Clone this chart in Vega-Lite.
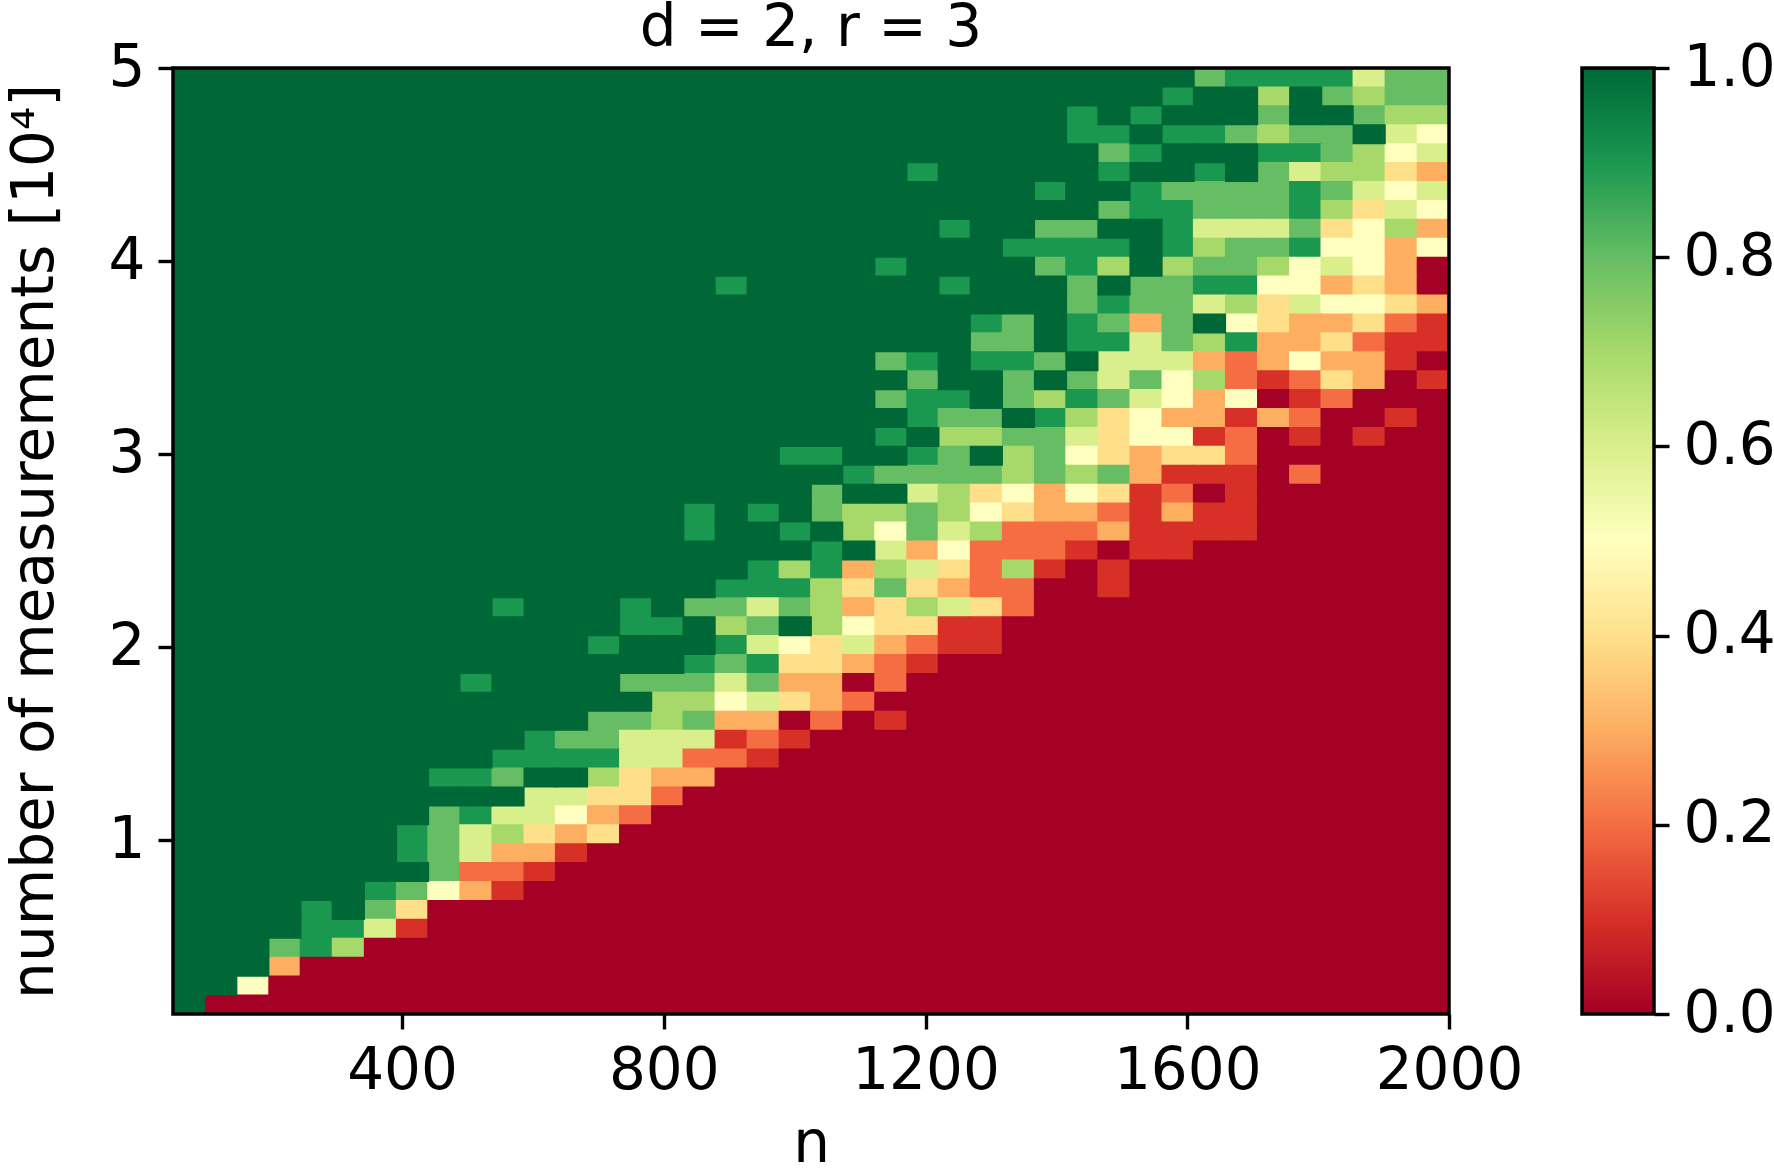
{"$schema":"https://vega.github.io/schema/vega-lite/v6.json","background":"white","padding":{"left":6,"top":0,"right":0,"bottom":0},"spacing":133,"bounds":"flush","config":{"font":"DejaVu Sans","view":{"stroke":null},"axis":{"grid":false,"domain":false,"tickColor":"black","tickWidth":3.4,"tickSize":15,"labelColor":"black","titleColor":"black","labelFontSize":58,"titleFontSize":58,"titleFontWeight":"normal","labelFont":"DejaVu Sans","titleFont":"DejaVu Sans","labelPadding":13,"labelFlush":false,"labelOverlap":false},"title":{"fontSize":58,"fontWeight":"normal","font":"DejaVu Sans","color":"black"}},"hconcat":[{"width":1276,"height":946,"title":{"text":"d = 2, r = 3","offset":-19},"layer":[{"data":{"values":[
{"n":1634,"m":4.951,"v":0.8},{"n":1683,"m":4.951,"v":0.9},{"n":1732,"m":4.951,"v":0.9},{"n":1781,"m":4.951,"v":0.9},{"n":1829,"m":4.951,"v":0.9},{"n":1878,"m":4.951,"v":0.6},{"n":1927,"m":4.951,"v":0.8},{"n":1976,"m":4.951,"v":0.8},
{"n":1586,"m":4.853,"v":0.9},{"n":1732,"m":4.853,"v":0.7},{"n":1829,"m":4.853,"v":0.8},{"n":1878,"m":4.853,"v":0.7},{"n":1927,"m":4.853,"v":0.8},{"n":1976,"m":4.853,"v":0.8},
{"n":1439,"m":4.755,"v":0.9},{"n":1537,"m":4.755,"v":0.9},{"n":1732,"m":4.755,"v":0.8},{"n":1878,"m":4.755,"v":0.8},{"n":1927,"m":4.755,"v":0.7},{"n":1976,"m":4.755,"v":0.7},
{"n":1439,"m":4.657,"v":0.9},{"n":1488,"m":4.657,"v":0.9},{"n":1586,"m":4.657,"v":0.9},{"n":1634,"m":4.657,"v":0.9},{"n":1683,"m":4.657,"v":0.8},{"n":1732,"m":4.657,"v":0.7},{"n":1781,"m":4.657,"v":0.8},{"n":1829,"m":4.657,"v":0.8},{"n":1927,"m":4.657,"v":0.6},{"n":1976,"m":4.657,"v":0.5},
{"n":1488,"m":4.559,"v":0.8},{"n":1537,"m":4.559,"v":0.9},{"n":1732,"m":4.559,"v":0.9},{"n":1781,"m":4.559,"v":0.9},{"n":1829,"m":4.559,"v":0.8},{"n":1878,"m":4.559,"v":0.7},{"n":1927,"m":4.559,"v":0.5},{"n":1976,"m":4.559,"v":0.6},
{"n":1196,"m":4.461,"v":0.9},{"n":1488,"m":4.461,"v":0.9},{"n":1634,"m":4.461,"v":0.9},{"n":1732,"m":4.461,"v":0.8},{"n":1781,"m":4.461,"v":0.6},{"n":1829,"m":4.461,"v":0.7},{"n":1878,"m":4.461,"v":0.7},{"n":1927,"m":4.461,"v":0.4},{"n":1976,"m":4.461,"v":0.3},
{"n":1391,"m":4.363,"v":0.9},{"n":1537,"m":4.363,"v":0.9},{"n":1586,"m":4.363,"v":0.8},{"n":1634,"m":4.363,"v":0.8},{"n":1683,"m":4.363,"v":0.8},{"n":1732,"m":4.363,"v":0.8},{"n":1781,"m":4.363,"v":0.9},{"n":1829,"m":4.363,"v":0.8},{"n":1878,"m":4.363,"v":0.6},{"n":1927,"m":4.363,"v":0.5},{"n":1976,"m":4.363,"v":0.6},
{"n":1488,"m":4.265,"v":0.8},{"n":1537,"m":4.265,"v":0.9},{"n":1586,"m":4.265,"v":0.9},{"n":1634,"m":4.265,"v":0.8},{"n":1683,"m":4.265,"v":0.8},{"n":1732,"m":4.265,"v":0.8},{"n":1781,"m":4.265,"v":0.9},{"n":1829,"m":4.265,"v":0.7},{"n":1878,"m":4.265,"v":0.4},{"n":1927,"m":4.265,"v":0.6},{"n":1976,"m":4.265,"v":0.5},
{"n":1244,"m":4.167,"v":0.9},{"n":1391,"m":4.167,"v":0.8},{"n":1439,"m":4.167,"v":0.8},{"n":1586,"m":4.167,"v":0.9},{"n":1634,"m":4.167,"v":0.6},{"n":1683,"m":4.167,"v":0.6},{"n":1732,"m":4.167,"v":0.6},{"n":1781,"m":4.167,"v":0.8},{"n":1829,"m":4.167,"v":0.4},{"n":1878,"m":4.167,"v":0.5},{"n":1927,"m":4.167,"v":0.7},{"n":1976,"m":4.167,"v":0.3},
{"n":1342,"m":4.069,"v":0.9},{"n":1391,"m":4.069,"v":0.9},{"n":1439,"m":4.069,"v":0.9},{"n":1488,"m":4.069,"v":0.9},{"n":1586,"m":4.069,"v":0.9},{"n":1634,"m":4.069,"v":0.7},{"n":1683,"m":4.069,"v":0.8},{"n":1732,"m":4.069,"v":0.8},{"n":1781,"m":4.069,"v":0.9},{"n":1829,"m":4.069,"v":0.5},{"n":1878,"m":4.069,"v":0.5},{"n":1927,"m":4.069,"v":0.3},{"n":1976,"m":4.069,"v":0.5},
{"n":1147,"m":3.971,"v":0.9},{"n":1391,"m":3.971,"v":0.8},{"n":1439,"m":3.971,"v":0.9},{"n":1488,"m":3.971,"v":0.7},{"n":1586,"m":3.971,"v":0.7},{"n":1634,"m":3.971,"v":0.8},{"n":1683,"m":3.971,"v":0.8},{"n":1732,"m":3.971,"v":0.7},{"n":1781,"m":3.971,"v":0.5},{"n":1829,"m":3.971,"v":0.6},{"n":1878,"m":3.971,"v":0.5},{"n":1927,"m":3.971,"v":0.3},{"n":1976,"m":3.971,"v":0},
{"n":903,"m":3.873,"v":0.9},{"n":1244,"m":3.873,"v":0.9},{"n":1439,"m":3.873,"v":0.8},{"n":1537,"m":3.873,"v":0.8},{"n":1586,"m":3.873,"v":0.8},{"n":1634,"m":3.873,"v":0.9},{"n":1683,"m":3.873,"v":0.9},{"n":1732,"m":3.873,"v":0.5},{"n":1781,"m":3.873,"v":0.5},{"n":1829,"m":3.873,"v":0.3},{"n":1878,"m":3.873,"v":0.4},{"n":1927,"m":3.873,"v":0.3},{"n":1976,"m":3.873,"v":0},
{"n":1439,"m":3.775,"v":0.8},{"n":1488,"m":3.775,"v":0.9},{"n":1537,"m":3.775,"v":0.8},{"n":1586,"m":3.775,"v":0.8},{"n":1634,"m":3.775,"v":0.6},{"n":1683,"m":3.775,"v":0.7},{"n":1732,"m":3.775,"v":0.4},{"n":1781,"m":3.775,"v":0.6},{"n":1829,"m":3.775,"v":0.5},{"n":1878,"m":3.775,"v":0.5},{"n":1927,"m":3.775,"v":0.4},{"n":1976,"m":3.775,"v":0.3},
{"n":1293,"m":3.677,"v":0.9},{"n":1342,"m":3.677,"v":0.8},{"n":1439,"m":3.677,"v":0.9},{"n":1488,"m":3.677,"v":0.8},{"n":1537,"m":3.677,"v":0.3},{"n":1586,"m":3.677,"v":0.8},{"n":1683,"m":3.677,"v":0.5},{"n":1732,"m":3.677,"v":0.4},{"n":1781,"m":3.677,"v":0.3},{"n":1829,"m":3.677,"v":0.3},{"n":1878,"m":3.677,"v":0.4},{"n":1927,"m":3.677,"v":0.2},{"n":1976,"m":3.677,"v":0.1},
{"n":1293,"m":3.579,"v":0.8},{"n":1342,"m":3.579,"v":0.8},{"n":1439,"m":3.579,"v":0.9},{"n":1488,"m":3.579,"v":0.9},{"n":1537,"m":3.579,"v":0.6},{"n":1586,"m":3.579,"v":0.8},{"n":1634,"m":3.579,"v":0.7},{"n":1683,"m":3.579,"v":0.9},{"n":1732,"m":3.579,"v":0.3},{"n":1781,"m":3.579,"v":0.3},{"n":1829,"m":3.579,"v":0.4},{"n":1878,"m":3.579,"v":0.2},{"n":1927,"m":3.579,"v":0.1},{"n":1976,"m":3.579,"v":0.1},
{"n":1147,"m":3.481,"v":0.8},{"n":1196,"m":3.481,"v":0.9},{"n":1293,"m":3.481,"v":0.9},{"n":1342,"m":3.481,"v":0.9},{"n":1391,"m":3.481,"v":0.8},{"n":1488,"m":3.481,"v":0.6},{"n":1537,"m":3.481,"v":0.6},{"n":1586,"m":3.481,"v":0.6},{"n":1634,"m":3.481,"v":0.3},{"n":1683,"m":3.481,"v":0.2},{"n":1732,"m":3.481,"v":0.3},{"n":1781,"m":3.481,"v":0.5},{"n":1829,"m":3.481,"v":0.3},{"n":1878,"m":3.481,"v":0.3},{"n":1927,"m":3.481,"v":0.1},{"n":1976,"m":3.481,"v":0},
{"n":1196,"m":3.383,"v":0.8},{"n":1342,"m":3.383,"v":0.8},{"n":1439,"m":3.383,"v":0.8},{"n":1488,"m":3.383,"v":0.6},{"n":1537,"m":3.383,"v":0.8},{"n":1586,"m":3.383,"v":0.5},{"n":1634,"m":3.383,"v":0.7},{"n":1683,"m":3.383,"v":0.2},{"n":1732,"m":3.383,"v":0.1},{"n":1781,"m":3.383,"v":0.2},{"n":1829,"m":3.383,"v":0.4},{"n":1878,"m":3.383,"v":0.3},{"n":1927,"m":3.383,"v":0},{"n":1976,"m":3.383,"v":0.1},
{"n":1147,"m":3.285,"v":0.8},{"n":1196,"m":3.285,"v":0.9},{"n":1244,"m":3.285,"v":0.9},{"n":1342,"m":3.285,"v":0.8},{"n":1391,"m":3.285,"v":0.7},{"n":1439,"m":3.285,"v":0.9},{"n":1488,"m":3.285,"v":0.8},{"n":1537,"m":3.285,"v":0.6},{"n":1586,"m":3.285,"v":0.5},{"n":1634,"m":3.285,"v":0.3},{"n":1683,"m":3.285,"v":0.5},{"n":1732,"m":3.285,"v":0},{"n":1781,"m":3.285,"v":0.1},{"n":1829,"m":3.285,"v":0.2},{"n":1878,"m":3.285,"v":0},{"n":1927,"m":3.285,"v":0},{"n":1976,"m":3.285,"v":0},
{"n":1196,"m":3.187,"v":0.9},{"n":1244,"m":3.187,"v":0.8},{"n":1293,"m":3.187,"v":0.8},{"n":1391,"m":3.187,"v":0.9},{"n":1439,"m":3.187,"v":0.7},{"n":1488,"m":3.187,"v":0.4},{"n":1537,"m":3.187,"v":0.5},{"n":1586,"m":3.187,"v":0.3},{"n":1634,"m":3.187,"v":0.3},{"n":1683,"m":3.187,"v":0.1},{"n":1732,"m":3.187,"v":0.3},{"n":1781,"m":3.187,"v":0.2},{"n":1829,"m":3.187,"v":0},{"n":1878,"m":3.187,"v":0},{"n":1927,"m":3.187,"v":0.1},{"n":1976,"m":3.187,"v":0},
{"n":1147,"m":3.089,"v":0.9},{"n":1244,"m":3.089,"v":0.7},{"n":1293,"m":3.089,"v":0.7},{"n":1342,"m":3.089,"v":0.8},{"n":1391,"m":3.089,"v":0.8},{"n":1439,"m":3.089,"v":0.6},{"n":1488,"m":3.089,"v":0.4},{"n":1537,"m":3.089,"v":0.5},{"n":1586,"m":3.089,"v":0.5},{"n":1634,"m":3.089,"v":0.1},{"n":1683,"m":3.089,"v":0.2},{"n":1732,"m":3.089,"v":0},{"n":1781,"m":3.089,"v":0.1},{"n":1829,"m":3.089,"v":0},{"n":1878,"m":3.089,"v":0.1},{"n":1927,"m":3.089,"v":0},{"n":1976,"m":3.089,"v":0},
{"n":1001,"m":2.991,"v":0.9},{"n":1049,"m":2.991,"v":0.9},{"n":1196,"m":2.991,"v":0.9},{"n":1244,"m":2.991,"v":0.8},{"n":1342,"m":2.991,"v":0.7},{"n":1391,"m":2.991,"v":0.8},{"n":1439,"m":2.991,"v":0.5},{"n":1488,"m":2.991,"v":0.4},{"n":1537,"m":2.991,"v":0.3},{"n":1586,"m":2.991,"v":0.4},{"n":1634,"m":2.991,"v":0.4},{"n":1683,"m":2.991,"v":0.2},{"n":1732,"m":2.991,"v":0},{"n":1781,"m":2.991,"v":0},{"n":1829,"m":2.991,"v":0},{"n":1878,"m":2.991,"v":0},{"n":1927,"m":2.991,"v":0},{"n":1976,"m":2.991,"v":0},
{"n":1098,"m":2.893,"v":0.9},{"n":1147,"m":2.893,"v":0.8},{"n":1196,"m":2.893,"v":0.8},{"n":1244,"m":2.893,"v":0.8},{"n":1293,"m":2.893,"v":0.8},{"n":1342,"m":2.893,"v":0.7},{"n":1391,"m":2.893,"v":0.8},{"n":1439,"m":2.893,"v":0.7},{"n":1488,"m":2.893,"v":0.8},{"n":1537,"m":2.893,"v":0.3},{"n":1586,"m":2.893,"v":0.1},{"n":1634,"m":2.893,"v":0.1},{"n":1683,"m":2.893,"v":0.1},{"n":1732,"m":2.893,"v":0},{"n":1781,"m":2.893,"v":0.2},{"n":1829,"m":2.893,"v":0},{"n":1878,"m":2.893,"v":0},{"n":1927,"m":2.893,"v":0},{"n":1976,"m":2.893,"v":0},
{"n":1049,"m":2.795,"v":0.8},{"n":1196,"m":2.795,"v":0.6},{"n":1244,"m":2.795,"v":0.7},{"n":1293,"m":2.795,"v":0.4},{"n":1342,"m":2.795,"v":0.5},{"n":1391,"m":2.795,"v":0.3},{"n":1439,"m":2.795,"v":0.5},{"n":1488,"m":2.795,"v":0.4},{"n":1537,"m":2.795,"v":0.1},{"n":1586,"m":2.795,"v":0.2},{"n":1634,"m":2.795,"v":0},{"n":1683,"m":2.795,"v":0.1},{"n":1732,"m":2.795,"v":0},{"n":1781,"m":2.795,"v":0},{"n":1829,"m":2.795,"v":0},{"n":1878,"m":2.795,"v":0},{"n":1927,"m":2.795,"v":0},{"n":1976,"m":2.795,"v":0},
{"n":854,"m":2.697,"v":0.9},{"n":952,"m":2.697,"v":0.9},{"n":1049,"m":2.697,"v":0.8},{"n":1098,"m":2.697,"v":0.7},{"n":1147,"m":2.697,"v":0.7},{"n":1196,"m":2.697,"v":0.8},{"n":1244,"m":2.697,"v":0.7},{"n":1293,"m":2.697,"v":0.5},{"n":1342,"m":2.697,"v":0.4},{"n":1391,"m":2.697,"v":0.3},{"n":1439,"m":2.697,"v":0.3},{"n":1488,"m":2.697,"v":0.2},{"n":1537,"m":2.697,"v":0.1},{"n":1586,"m":2.697,"v":0.3},{"n":1634,"m":2.697,"v":0.1},{"n":1683,"m":2.697,"v":0.1},{"n":1732,"m":2.697,"v":0},{"n":1781,"m":2.697,"v":0},{"n":1829,"m":2.697,"v":0},{"n":1878,"m":2.697,"v":0},{"n":1927,"m":2.697,"v":0},{"n":1976,"m":2.697,"v":0},
{"n":854,"m":2.599,"v":0.9},{"n":1001,"m":2.599,"v":0.9},{"n":1098,"m":2.599,"v":0.7},{"n":1147,"m":2.599,"v":0.5},{"n":1196,"m":2.599,"v":0.8},{"n":1244,"m":2.599,"v":0.6},{"n":1293,"m":2.599,"v":0.7},{"n":1342,"m":2.599,"v":0.2},{"n":1391,"m":2.599,"v":0.2},{"n":1439,"m":2.599,"v":0.2},{"n":1488,"m":2.599,"v":0.3},{"n":1537,"m":2.599,"v":0.1},{"n":1586,"m":2.599,"v":0.1},{"n":1634,"m":2.599,"v":0.1},{"n":1683,"m":2.599,"v":0.1},{"n":1732,"m":2.599,"v":0},{"n":1781,"m":2.599,"v":0},{"n":1829,"m":2.599,"v":0},{"n":1878,"m":2.599,"v":0},{"n":1927,"m":2.599,"v":0},{"n":1976,"m":2.599,"v":0},
{"n":1049,"m":2.501,"v":0.9},{"n":1147,"m":2.501,"v":0.6},{"n":1196,"m":2.501,"v":0.3},{"n":1244,"m":2.501,"v":0.5},{"n":1293,"m":2.501,"v":0.2},{"n":1342,"m":2.501,"v":0.2},{"n":1391,"m":2.501,"v":0.2},{"n":1439,"m":2.501,"v":0.1},{"n":1488,"m":2.501,"v":0},{"n":1537,"m":2.501,"v":0.1},{"n":1586,"m":2.501,"v":0.1},{"n":1634,"m":2.501,"v":0},{"n":1683,"m":2.501,"v":0},{"n":1732,"m":2.501,"v":0},{"n":1781,"m":2.501,"v":0},{"n":1829,"m":2.501,"v":0},{"n":1878,"m":2.501,"v":0},{"n":1927,"m":2.501,"v":0},{"n":1976,"m":2.501,"v":0},
{"n":952,"m":2.403,"v":0.9},{"n":1001,"m":2.403,"v":0.7},{"n":1049,"m":2.403,"v":0.9},{"n":1098,"m":2.403,"v":0.3},{"n":1147,"m":2.403,"v":0.7},{"n":1196,"m":2.403,"v":0.6},{"n":1244,"m":2.403,"v":0.4},{"n":1293,"m":2.403,"v":0.2},{"n":1342,"m":2.403,"v":0.7},{"n":1391,"m":2.403,"v":0.1},{"n":1439,"m":2.403,"v":0},{"n":1488,"m":2.403,"v":0.1},{"n":1537,"m":2.403,"v":0},{"n":1586,"m":2.403,"v":0},{"n":1634,"m":2.403,"v":0},{"n":1683,"m":2.403,"v":0},{"n":1732,"m":2.403,"v":0},{"n":1781,"m":2.403,"v":0},{"n":1829,"m":2.403,"v":0},{"n":1878,"m":2.403,"v":0},{"n":1927,"m":2.403,"v":0},{"n":1976,"m":2.403,"v":0},
{"n":903,"m":2.305,"v":0.9},{"n":952,"m":2.305,"v":0.9},{"n":1001,"m":2.305,"v":0.9},{"n":1049,"m":2.305,"v":0.7},{"n":1098,"m":2.305,"v":0.4},{"n":1147,"m":2.305,"v":0.8},{"n":1196,"m":2.305,"v":0.4},{"n":1244,"m":2.305,"v":0.3},{"n":1293,"m":2.305,"v":0.2},{"n":1342,"m":2.305,"v":0.2},{"n":1391,"m":2.305,"v":0},{"n":1439,"m":2.305,"v":0},{"n":1488,"m":2.305,"v":0.1},{"n":1537,"m":2.305,"v":0},{"n":1586,"m":2.305,"v":0},{"n":1634,"m":2.305,"v":0},{"n":1683,"m":2.305,"v":0},{"n":1732,"m":2.305,"v":0},{"n":1781,"m":2.305,"v":0},{"n":1829,"m":2.305,"v":0},{"n":1878,"m":2.305,"v":0},{"n":1927,"m":2.305,"v":0},{"n":1976,"m":2.305,"v":0},
{"n":562,"m":2.207,"v":0.9},{"n":757,"m":2.207,"v":0.9},{"n":854,"m":2.207,"v":0.8},{"n":903,"m":2.207,"v":0.8},{"n":952,"m":2.207,"v":0.6},{"n":1001,"m":2.207,"v":0.8},{"n":1049,"m":2.207,"v":0.7},{"n":1098,"m":2.207,"v":0.3},{"n":1147,"m":2.207,"v":0.4},{"n":1196,"m":2.207,"v":0.7},{"n":1244,"m":2.207,"v":0.6},{"n":1293,"m":2.207,"v":0.4},{"n":1342,"m":2.207,"v":0.2},{"n":1391,"m":2.207,"v":0},{"n":1439,"m":2.207,"v":0},{"n":1488,"m":2.207,"v":0},{"n":1537,"m":2.207,"v":0},{"n":1586,"m":2.207,"v":0},{"n":1634,"m":2.207,"v":0},{"n":1683,"m":2.207,"v":0},{"n":1732,"m":2.207,"v":0},{"n":1781,"m":2.207,"v":0},{"n":1829,"m":2.207,"v":0},{"n":1878,"m":2.207,"v":0},{"n":1927,"m":2.207,"v":0},{"n":1976,"m":2.207,"v":0},
{"n":757,"m":2.109,"v":0.9},{"n":806,"m":2.109,"v":0.9},{"n":903,"m":2.109,"v":0.7},{"n":952,"m":2.109,"v":0.8},{"n":1049,"m":2.109,"v":0.7},{"n":1098,"m":2.109,"v":0.5},{"n":1147,"m":2.109,"v":0.4},{"n":1196,"m":2.109,"v":0.4},{"n":1244,"m":2.109,"v":0.1},{"n":1293,"m":2.109,"v":0.1},{"n":1342,"m":2.109,"v":0},{"n":1391,"m":2.109,"v":0},{"n":1439,"m":2.109,"v":0},{"n":1488,"m":2.109,"v":0},{"n":1537,"m":2.109,"v":0},{"n":1586,"m":2.109,"v":0},{"n":1634,"m":2.109,"v":0},{"n":1683,"m":2.109,"v":0},{"n":1732,"m":2.109,"v":0},{"n":1781,"m":2.109,"v":0},{"n":1829,"m":2.109,"v":0},{"n":1878,"m":2.109,"v":0},{"n":1927,"m":2.109,"v":0},{"n":1976,"m":2.109,"v":0},
{"n":708,"m":2.011,"v":0.9},{"n":903,"m":2.011,"v":0.9},{"n":952,"m":2.011,"v":0.6},{"n":1001,"m":2.011,"v":0.5},{"n":1049,"m":2.011,"v":0.4},{"n":1098,"m":2.011,"v":0.6},{"n":1147,"m":2.011,"v":0.3},{"n":1196,"m":2.011,"v":0.2},{"n":1244,"m":2.011,"v":0.1},{"n":1293,"m":2.011,"v":0.1},{"n":1342,"m":2.011,"v":0},{"n":1391,"m":2.011,"v":0},{"n":1439,"m":2.011,"v":0},{"n":1488,"m":2.011,"v":0},{"n":1537,"m":2.011,"v":0},{"n":1586,"m":2.011,"v":0},{"n":1634,"m":2.011,"v":0},{"n":1683,"m":2.011,"v":0},{"n":1732,"m":2.011,"v":0},{"n":1781,"m":2.011,"v":0},{"n":1829,"m":2.011,"v":0},{"n":1878,"m":2.011,"v":0},{"n":1927,"m":2.011,"v":0},{"n":1976,"m":2.011,"v":0},
{"n":854,"m":1.913,"v":0.9},{"n":903,"m":1.913,"v":0.8},{"n":952,"m":1.913,"v":0.9},{"n":1001,"m":1.913,"v":0.4},{"n":1049,"m":1.913,"v":0.4},{"n":1098,"m":1.913,"v":0.3},{"n":1147,"m":1.913,"v":0.2},{"n":1196,"m":1.913,"v":0.1},{"n":1244,"m":1.913,"v":0},{"n":1293,"m":1.913,"v":0},{"n":1342,"m":1.913,"v":0},{"n":1391,"m":1.913,"v":0},{"n":1439,"m":1.913,"v":0},{"n":1488,"m":1.913,"v":0},{"n":1537,"m":1.913,"v":0},{"n":1586,"m":1.913,"v":0},{"n":1634,"m":1.913,"v":0},{"n":1683,"m":1.913,"v":0},{"n":1732,"m":1.913,"v":0},{"n":1781,"m":1.913,"v":0},{"n":1829,"m":1.913,"v":0},{"n":1878,"m":1.913,"v":0},{"n":1927,"m":1.913,"v":0},{"n":1976,"m":1.913,"v":0},
{"n":513,"m":1.815,"v":0.9},{"n":757,"m":1.815,"v":0.8},{"n":806,"m":1.815,"v":0.8},{"n":854,"m":1.815,"v":0.8},{"n":903,"m":1.815,"v":0.6},{"n":952,"m":1.815,"v":0.8},{"n":1001,"m":1.815,"v":0.3},{"n":1049,"m":1.815,"v":0.3},{"n":1098,"m":1.815,"v":0},{"n":1147,"m":1.815,"v":0.2},{"n":1196,"m":1.815,"v":0},{"n":1244,"m":1.815,"v":0},{"n":1293,"m":1.815,"v":0},{"n":1342,"m":1.815,"v":0},{"n":1391,"m":1.815,"v":0},{"n":1439,"m":1.815,"v":0},{"n":1488,"m":1.815,"v":0},{"n":1537,"m":1.815,"v":0},{"n":1586,"m":1.815,"v":0},{"n":1634,"m":1.815,"v":0},{"n":1683,"m":1.815,"v":0},{"n":1732,"m":1.815,"v":0},{"n":1781,"m":1.815,"v":0},{"n":1829,"m":1.815,"v":0},{"n":1878,"m":1.815,"v":0},{"n":1927,"m":1.815,"v":0},{"n":1976,"m":1.815,"v":0},
{"n":806,"m":1.717,"v":0.7},{"n":854,"m":1.717,"v":0.7},{"n":903,"m":1.717,"v":0.5},{"n":952,"m":1.717,"v":0.6},{"n":1001,"m":1.717,"v":0.4},{"n":1049,"m":1.717,"v":0.3},{"n":1098,"m":1.717,"v":0.2},{"n":1147,"m":1.717,"v":0},{"n":1196,"m":1.717,"v":0},{"n":1244,"m":1.717,"v":0},{"n":1293,"m":1.717,"v":0},{"n":1342,"m":1.717,"v":0},{"n":1391,"m":1.717,"v":0},{"n":1439,"m":1.717,"v":0},{"n":1488,"m":1.717,"v":0},{"n":1537,"m":1.717,"v":0},{"n":1586,"m":1.717,"v":0},{"n":1634,"m":1.717,"v":0},{"n":1683,"m":1.717,"v":0},{"n":1732,"m":1.717,"v":0},{"n":1781,"m":1.717,"v":0},{"n":1829,"m":1.717,"v":0},{"n":1878,"m":1.717,"v":0},{"n":1927,"m":1.717,"v":0},{"n":1976,"m":1.717,"v":0},
{"n":708,"m":1.619,"v":0.8},{"n":757,"m":1.619,"v":0.8},{"n":806,"m":1.619,"v":0.7},{"n":854,"m":1.619,"v":0.8},{"n":903,"m":1.619,"v":0.3},{"n":952,"m":1.619,"v":0.3},{"n":1001,"m":1.619,"v":0},{"n":1049,"m":1.619,"v":0.2},{"n":1098,"m":1.619,"v":0},{"n":1147,"m":1.619,"v":0.1},{"n":1196,"m":1.619,"v":0},{"n":1244,"m":1.619,"v":0},{"n":1293,"m":1.619,"v":0},{"n":1342,"m":1.619,"v":0},{"n":1391,"m":1.619,"v":0},{"n":1439,"m":1.619,"v":0},{"n":1488,"m":1.619,"v":0},{"n":1537,"m":1.619,"v":0},{"n":1586,"m":1.619,"v":0},{"n":1634,"m":1.619,"v":0},{"n":1683,"m":1.619,"v":0},{"n":1732,"m":1.619,"v":0},{"n":1781,"m":1.619,"v":0},{"n":1829,"m":1.619,"v":0},{"n":1878,"m":1.619,"v":0},{"n":1927,"m":1.619,"v":0},{"n":1976,"m":1.619,"v":0},
{"n":611,"m":1.521,"v":0.9},{"n":659,"m":1.521,"v":0.8},{"n":708,"m":1.521,"v":0.8},{"n":757,"m":1.521,"v":0.6},{"n":806,"m":1.521,"v":0.6},{"n":854,"m":1.521,"v":0.6},{"n":903,"m":1.521,"v":0.1},{"n":952,"m":1.521,"v":0.2},{"n":1001,"m":1.521,"v":0.1},{"n":1049,"m":1.521,"v":0},{"n":1098,"m":1.521,"v":0},{"n":1147,"m":1.521,"v":0},{"n":1196,"m":1.521,"v":0},{"n":1244,"m":1.521,"v":0},{"n":1293,"m":1.521,"v":0},{"n":1342,"m":1.521,"v":0},{"n":1391,"m":1.521,"v":0},{"n":1439,"m":1.521,"v":0},{"n":1488,"m":1.521,"v":0},{"n":1537,"m":1.521,"v":0},{"n":1586,"m":1.521,"v":0},{"n":1634,"m":1.521,"v":0},{"n":1683,"m":1.521,"v":0},{"n":1732,"m":1.521,"v":0},{"n":1781,"m":1.521,"v":0},{"n":1829,"m":1.521,"v":0},{"n":1878,"m":1.521,"v":0},{"n":1927,"m":1.521,"v":0},{"n":1976,"m":1.521,"v":0},
{"n":562,"m":1.423,"v":0.9},{"n":611,"m":1.423,"v":0.9},{"n":659,"m":1.423,"v":0.9},{"n":708,"m":1.423,"v":0.9},{"n":757,"m":1.423,"v":0.6},{"n":806,"m":1.423,"v":0.6},{"n":854,"m":1.423,"v":0.2},{"n":903,"m":1.423,"v":0.2},{"n":952,"m":1.423,"v":0.1},{"n":1001,"m":1.423,"v":0},{"n":1049,"m":1.423,"v":0},{"n":1098,"m":1.423,"v":0},{"n":1147,"m":1.423,"v":0},{"n":1196,"m":1.423,"v":0},{"n":1244,"m":1.423,"v":0},{"n":1293,"m":1.423,"v":0},{"n":1342,"m":1.423,"v":0},{"n":1391,"m":1.423,"v":0},{"n":1439,"m":1.423,"v":0},{"n":1488,"m":1.423,"v":0},{"n":1537,"m":1.423,"v":0},{"n":1586,"m":1.423,"v":0},{"n":1634,"m":1.423,"v":0},{"n":1683,"m":1.423,"v":0},{"n":1732,"m":1.423,"v":0},{"n":1781,"m":1.423,"v":0},{"n":1829,"m":1.423,"v":0},{"n":1878,"m":1.423,"v":0},{"n":1927,"m":1.423,"v":0},{"n":1976,"m":1.423,"v":0},
{"n":464,"m":1.325,"v":0.9},{"n":513,"m":1.325,"v":0.9},{"n":562,"m":1.325,"v":0.8},{"n":708,"m":1.325,"v":0.7},{"n":757,"m":1.325,"v":0.4},{"n":806,"m":1.325,"v":0.3},{"n":854,"m":1.325,"v":0.3},{"n":903,"m":1.325,"v":0},{"n":952,"m":1.325,"v":0},{"n":1001,"m":1.325,"v":0},{"n":1049,"m":1.325,"v":0},{"n":1098,"m":1.325,"v":0},{"n":1147,"m":1.325,"v":0},{"n":1196,"m":1.325,"v":0},{"n":1244,"m":1.325,"v":0},{"n":1293,"m":1.325,"v":0},{"n":1342,"m":1.325,"v":0},{"n":1391,"m":1.325,"v":0},{"n":1439,"m":1.325,"v":0},{"n":1488,"m":1.325,"v":0},{"n":1537,"m":1.325,"v":0},{"n":1586,"m":1.325,"v":0},{"n":1634,"m":1.325,"v":0},{"n":1683,"m":1.325,"v":0},{"n":1732,"m":1.325,"v":0},{"n":1781,"m":1.325,"v":0},{"n":1829,"m":1.325,"v":0},{"n":1878,"m":1.325,"v":0},{"n":1927,"m":1.325,"v":0},{"n":1976,"m":1.325,"v":0},
{"n":611,"m":1.227,"v":0.6},{"n":659,"m":1.227,"v":0.6},{"n":708,"m":1.227,"v":0.4},{"n":757,"m":1.227,"v":0.4},{"n":806,"m":1.227,"v":0.2},{"n":854,"m":1.227,"v":0},{"n":903,"m":1.227,"v":0},{"n":952,"m":1.227,"v":0},{"n":1001,"m":1.227,"v":0},{"n":1049,"m":1.227,"v":0},{"n":1098,"m":1.227,"v":0},{"n":1147,"m":1.227,"v":0},{"n":1196,"m":1.227,"v":0},{"n":1244,"m":1.227,"v":0},{"n":1293,"m":1.227,"v":0},{"n":1342,"m":1.227,"v":0},{"n":1391,"m":1.227,"v":0},{"n":1439,"m":1.227,"v":0},{"n":1488,"m":1.227,"v":0},{"n":1537,"m":1.227,"v":0},{"n":1586,"m":1.227,"v":0},{"n":1634,"m":1.227,"v":0},{"n":1683,"m":1.227,"v":0},{"n":1732,"m":1.227,"v":0},{"n":1781,"m":1.227,"v":0},{"n":1829,"m":1.227,"v":0},{"n":1878,"m":1.227,"v":0},{"n":1927,"m":1.227,"v":0},{"n":1976,"m":1.227,"v":0},
{"n":464,"m":1.129,"v":0.8},{"n":513,"m":1.129,"v":0.9},{"n":562,"m":1.129,"v":0.6},{"n":611,"m":1.129,"v":0.6},{"n":659,"m":1.129,"v":0.5},{"n":708,"m":1.129,"v":0.3},{"n":757,"m":1.129,"v":0.2},{"n":806,"m":1.129,"v":0},{"n":854,"m":1.129,"v":0},{"n":903,"m":1.129,"v":0},{"n":952,"m":1.129,"v":0},{"n":1001,"m":1.129,"v":0},{"n":1049,"m":1.129,"v":0},{"n":1098,"m":1.129,"v":0},{"n":1147,"m":1.129,"v":0},{"n":1196,"m":1.129,"v":0},{"n":1244,"m":1.129,"v":0},{"n":1293,"m":1.129,"v":0},{"n":1342,"m":1.129,"v":0},{"n":1391,"m":1.129,"v":0},{"n":1439,"m":1.129,"v":0},{"n":1488,"m":1.129,"v":0},{"n":1537,"m":1.129,"v":0},{"n":1586,"m":1.129,"v":0},{"n":1634,"m":1.129,"v":0},{"n":1683,"m":1.129,"v":0},{"n":1732,"m":1.129,"v":0},{"n":1781,"m":1.129,"v":0},{"n":1829,"m":1.129,"v":0},{"n":1878,"m":1.129,"v":0},{"n":1927,"m":1.129,"v":0},{"n":1976,"m":1.129,"v":0},
{"n":416,"m":1.031,"v":0.9},{"n":464,"m":1.031,"v":0.8},{"n":513,"m":1.031,"v":0.6},{"n":562,"m":1.031,"v":0.7},{"n":611,"m":1.031,"v":0.4},{"n":659,"m":1.031,"v":0.3},{"n":708,"m":1.031,"v":0.4},{"n":757,"m":1.031,"v":0},{"n":806,"m":1.031,"v":0},{"n":854,"m":1.031,"v":0},{"n":903,"m":1.031,"v":0},{"n":952,"m":1.031,"v":0},{"n":1001,"m":1.031,"v":0},{"n":1049,"m":1.031,"v":0},{"n":1098,"m":1.031,"v":0},{"n":1147,"m":1.031,"v":0},{"n":1196,"m":1.031,"v":0},{"n":1244,"m":1.031,"v":0},{"n":1293,"m":1.031,"v":0},{"n":1342,"m":1.031,"v":0},{"n":1391,"m":1.031,"v":0},{"n":1439,"m":1.031,"v":0},{"n":1488,"m":1.031,"v":0},{"n":1537,"m":1.031,"v":0},{"n":1586,"m":1.031,"v":0},{"n":1634,"m":1.031,"v":0},{"n":1683,"m":1.031,"v":0},{"n":1732,"m":1.031,"v":0},{"n":1781,"m":1.031,"v":0},{"n":1829,"m":1.031,"v":0},{"n":1878,"m":1.031,"v":0},{"n":1927,"m":1.031,"v":0},{"n":1976,"m":1.031,"v":0},
{"n":416,"m":0.933,"v":0.9},{"n":464,"m":0.933,"v":0.8},{"n":513,"m":0.933,"v":0.6},{"n":562,"m":0.933,"v":0.3},{"n":611,"m":0.933,"v":0.3},{"n":659,"m":0.933,"v":0.1},{"n":708,"m":0.933,"v":0},{"n":757,"m":0.933,"v":0},{"n":806,"m":0.933,"v":0},{"n":854,"m":0.933,"v":0},{"n":903,"m":0.933,"v":0},{"n":952,"m":0.933,"v":0},{"n":1001,"m":0.933,"v":0},{"n":1049,"m":0.933,"v":0},{"n":1098,"m":0.933,"v":0},{"n":1147,"m":0.933,"v":0},{"n":1196,"m":0.933,"v":0},{"n":1244,"m":0.933,"v":0},{"n":1293,"m":0.933,"v":0},{"n":1342,"m":0.933,"v":0},{"n":1391,"m":0.933,"v":0},{"n":1439,"m":0.933,"v":0},{"n":1488,"m":0.933,"v":0},{"n":1537,"m":0.933,"v":0},{"n":1586,"m":0.933,"v":0},{"n":1634,"m":0.933,"v":0},{"n":1683,"m":0.933,"v":0},{"n":1732,"m":0.933,"v":0},{"n":1781,"m":0.933,"v":0},{"n":1829,"m":0.933,"v":0},{"n":1878,"m":0.933,"v":0},{"n":1927,"m":0.933,"v":0},{"n":1976,"m":0.933,"v":0},
{"n":464,"m":0.835,"v":0.8},{"n":513,"m":0.835,"v":0.2},{"n":562,"m":0.835,"v":0.2},{"n":611,"m":0.835,"v":0.1},{"n":659,"m":0.835,"v":0},{"n":708,"m":0.835,"v":0},{"n":757,"m":0.835,"v":0},{"n":806,"m":0.835,"v":0},{"n":854,"m":0.835,"v":0},{"n":903,"m":0.835,"v":0},{"n":952,"m":0.835,"v":0},{"n":1001,"m":0.835,"v":0},{"n":1049,"m":0.835,"v":0},{"n":1098,"m":0.835,"v":0},{"n":1147,"m":0.835,"v":0},{"n":1196,"m":0.835,"v":0},{"n":1244,"m":0.835,"v":0},{"n":1293,"m":0.835,"v":0},{"n":1342,"m":0.835,"v":0},{"n":1391,"m":0.835,"v":0},{"n":1439,"m":0.835,"v":0},{"n":1488,"m":0.835,"v":0},{"n":1537,"m":0.835,"v":0},{"n":1586,"m":0.835,"v":0},{"n":1634,"m":0.835,"v":0},{"n":1683,"m":0.835,"v":0},{"n":1732,"m":0.835,"v":0},{"n":1781,"m":0.835,"v":0},{"n":1829,"m":0.835,"v":0},{"n":1878,"m":0.835,"v":0},{"n":1927,"m":0.835,"v":0},{"n":1976,"m":0.835,"v":0},
{"n":367,"m":0.737,"v":0.9},{"n":416,"m":0.737,"v":0.8},{"n":464,"m":0.737,"v":0.5},{"n":513,"m":0.737,"v":0.3},{"n":562,"m":0.737,"v":0.1},{"n":611,"m":0.737,"v":0},{"n":659,"m":0.737,"v":0},{"n":708,"m":0.737,"v":0},{"n":757,"m":0.737,"v":0},{"n":806,"m":0.737,"v":0},{"n":854,"m":0.737,"v":0},{"n":903,"m":0.737,"v":0},{"n":952,"m":0.737,"v":0},{"n":1001,"m":0.737,"v":0},{"n":1049,"m":0.737,"v":0},{"n":1098,"m":0.737,"v":0},{"n":1147,"m":0.737,"v":0},{"n":1196,"m":0.737,"v":0},{"n":1244,"m":0.737,"v":0},{"n":1293,"m":0.737,"v":0},{"n":1342,"m":0.737,"v":0},{"n":1391,"m":0.737,"v":0},{"n":1439,"m":0.737,"v":0},{"n":1488,"m":0.737,"v":0},{"n":1537,"m":0.737,"v":0},{"n":1586,"m":0.737,"v":0},{"n":1634,"m":0.737,"v":0},{"n":1683,"m":0.737,"v":0},{"n":1732,"m":0.737,"v":0},{"n":1781,"m":0.737,"v":0},{"n":1829,"m":0.737,"v":0},{"n":1878,"m":0.737,"v":0},{"n":1927,"m":0.737,"v":0},{"n":1976,"m":0.737,"v":0},
{"n":269,"m":0.639,"v":0.9},{"n":367,"m":0.639,"v":0.8},{"n":416,"m":0.639,"v":0.4},{"n":464,"m":0.639,"v":0},{"n":513,"m":0.639,"v":0},{"n":562,"m":0.639,"v":0},{"n":611,"m":0.639,"v":0},{"n":659,"m":0.639,"v":0},{"n":708,"m":0.639,"v":0},{"n":757,"m":0.639,"v":0},{"n":806,"m":0.639,"v":0},{"n":854,"m":0.639,"v":0},{"n":903,"m":0.639,"v":0},{"n":952,"m":0.639,"v":0},{"n":1001,"m":0.639,"v":0},{"n":1049,"m":0.639,"v":0},{"n":1098,"m":0.639,"v":0},{"n":1147,"m":0.639,"v":0},{"n":1196,"m":0.639,"v":0},{"n":1244,"m":0.639,"v":0},{"n":1293,"m":0.639,"v":0},{"n":1342,"m":0.639,"v":0},{"n":1391,"m":0.639,"v":0},{"n":1439,"m":0.639,"v":0},{"n":1488,"m":0.639,"v":0},{"n":1537,"m":0.639,"v":0},{"n":1586,"m":0.639,"v":0},{"n":1634,"m":0.639,"v":0},{"n":1683,"m":0.639,"v":0},{"n":1732,"m":0.639,"v":0},{"n":1781,"m":0.639,"v":0},{"n":1829,"m":0.639,"v":0},{"n":1878,"m":0.639,"v":0},{"n":1927,"m":0.639,"v":0},{"n":1976,"m":0.639,"v":0},
{"n":269,"m":0.541,"v":0.9},{"n":318,"m":0.541,"v":0.9},{"n":367,"m":0.541,"v":0.6},{"n":416,"m":0.541,"v":0.1},{"n":464,"m":0.541,"v":0},{"n":513,"m":0.541,"v":0},{"n":562,"m":0.541,"v":0},{"n":611,"m":0.541,"v":0},{"n":659,"m":0.541,"v":0},{"n":708,"m":0.541,"v":0},{"n":757,"m":0.541,"v":0},{"n":806,"m":0.541,"v":0},{"n":854,"m":0.541,"v":0},{"n":903,"m":0.541,"v":0},{"n":952,"m":0.541,"v":0},{"n":1001,"m":0.541,"v":0},{"n":1049,"m":0.541,"v":0},{"n":1098,"m":0.541,"v":0},{"n":1147,"m":0.541,"v":0},{"n":1196,"m":0.541,"v":0},{"n":1244,"m":0.541,"v":0},{"n":1293,"m":0.541,"v":0},{"n":1342,"m":0.541,"v":0},{"n":1391,"m":0.541,"v":0},{"n":1439,"m":0.541,"v":0},{"n":1488,"m":0.541,"v":0},{"n":1537,"m":0.541,"v":0},{"n":1586,"m":0.541,"v":0},{"n":1634,"m":0.541,"v":0},{"n":1683,"m":0.541,"v":0},{"n":1732,"m":0.541,"v":0},{"n":1781,"m":0.541,"v":0},{"n":1829,"m":0.541,"v":0},{"n":1878,"m":0.541,"v":0},{"n":1927,"m":0.541,"v":0},{"n":1976,"m":0.541,"v":0},
{"n":221,"m":0.443,"v":0.8},{"n":269,"m":0.443,"v":0.9},{"n":318,"m":0.443,"v":0.7},{"n":367,"m":0.443,"v":0},{"n":416,"m":0.443,"v":0},{"n":464,"m":0.443,"v":0},{"n":513,"m":0.443,"v":0},{"n":562,"m":0.443,"v":0},{"n":611,"m":0.443,"v":0},{"n":659,"m":0.443,"v":0},{"n":708,"m":0.443,"v":0},{"n":757,"m":0.443,"v":0},{"n":806,"m":0.443,"v":0},{"n":854,"m":0.443,"v":0},{"n":903,"m":0.443,"v":0},{"n":952,"m":0.443,"v":0},{"n":1001,"m":0.443,"v":0},{"n":1049,"m":0.443,"v":0},{"n":1098,"m":0.443,"v":0},{"n":1147,"m":0.443,"v":0},{"n":1196,"m":0.443,"v":0},{"n":1244,"m":0.443,"v":0},{"n":1293,"m":0.443,"v":0},{"n":1342,"m":0.443,"v":0},{"n":1391,"m":0.443,"v":0},{"n":1439,"m":0.443,"v":0},{"n":1488,"m":0.443,"v":0},{"n":1537,"m":0.443,"v":0},{"n":1586,"m":0.443,"v":0},{"n":1634,"m":0.443,"v":0},{"n":1683,"m":0.443,"v":0},{"n":1732,"m":0.443,"v":0},{"n":1781,"m":0.443,"v":0},{"n":1829,"m":0.443,"v":0},{"n":1878,"m":0.443,"v":0},{"n":1927,"m":0.443,"v":0},{"n":1976,"m":0.443,"v":0},
{"n":221,"m":0.345,"v":0.3},{"n":269,"m":0.345,"v":0},{"n":318,"m":0.345,"v":0},{"n":367,"m":0.345,"v":0},{"n":416,"m":0.345,"v":0},{"n":464,"m":0.345,"v":0},{"n":513,"m":0.345,"v":0},{"n":562,"m":0.345,"v":0},{"n":611,"m":0.345,"v":0},{"n":659,"m":0.345,"v":0},{"n":708,"m":0.345,"v":0},{"n":757,"m":0.345,"v":0},{"n":806,"m":0.345,"v":0},{"n":854,"m":0.345,"v":0},{"n":903,"m":0.345,"v":0},{"n":952,"m":0.345,"v":0},{"n":1001,"m":0.345,"v":0},{"n":1049,"m":0.345,"v":0},{"n":1098,"m":0.345,"v":0},{"n":1147,"m":0.345,"v":0},{"n":1196,"m":0.345,"v":0},{"n":1244,"m":0.345,"v":0},{"n":1293,"m":0.345,"v":0},{"n":1342,"m":0.345,"v":0},{"n":1391,"m":0.345,"v":0},{"n":1439,"m":0.345,"v":0},{"n":1488,"m":0.345,"v":0},{"n":1537,"m":0.345,"v":0},{"n":1586,"m":0.345,"v":0},{"n":1634,"m":0.345,"v":0},{"n":1683,"m":0.345,"v":0},{"n":1732,"m":0.345,"v":0},{"n":1781,"m":0.345,"v":0},{"n":1829,"m":0.345,"v":0},{"n":1878,"m":0.345,"v":0},{"n":1927,"m":0.345,"v":0},{"n":1976,"m":0.345,"v":0},
{"n":172,"m":0.247,"v":0.5},{"n":221,"m":0.247,"v":0},{"n":269,"m":0.247,"v":0},{"n":318,"m":0.247,"v":0},{"n":367,"m":0.247,"v":0},{"n":416,"m":0.247,"v":0},{"n":464,"m":0.247,"v":0},{"n":513,"m":0.247,"v":0},{"n":562,"m":0.247,"v":0},{"n":611,"m":0.247,"v":0},{"n":659,"m":0.247,"v":0},{"n":708,"m":0.247,"v":0},{"n":757,"m":0.247,"v":0},{"n":806,"m":0.247,"v":0},{"n":854,"m":0.247,"v":0},{"n":903,"m":0.247,"v":0},{"n":952,"m":0.247,"v":0},{"n":1001,"m":0.247,"v":0},{"n":1049,"m":0.247,"v":0},{"n":1098,"m":0.247,"v":0},{"n":1147,"m":0.247,"v":0},{"n":1196,"m":0.247,"v":0},{"n":1244,"m":0.247,"v":0},{"n":1293,"m":0.247,"v":0},{"n":1342,"m":0.247,"v":0},{"n":1391,"m":0.247,"v":0},{"n":1439,"m":0.247,"v":0},{"n":1488,"m":0.247,"v":0},{"n":1537,"m":0.247,"v":0},{"n":1586,"m":0.247,"v":0},{"n":1634,"m":0.247,"v":0},{"n":1683,"m":0.247,"v":0},{"n":1732,"m":0.247,"v":0},{"n":1781,"m":0.247,"v":0},{"n":1829,"m":0.247,"v":0},{"n":1878,"m":0.247,"v":0},{"n":1927,"m":0.247,"v":0},{"n":1976,"m":0.247,"v":0},
{"n":123,"m":0.149,"v":0},{"n":172,"m":0.149,"v":0},{"n":221,"m":0.149,"v":0},{"n":269,"m":0.149,"v":0},{"n":318,"m":0.149,"v":0},{"n":367,"m":0.149,"v":0},{"n":416,"m":0.149,"v":0},{"n":464,"m":0.149,"v":0},{"n":513,"m":0.149,"v":0},{"n":562,"m":0.149,"v":0},{"n":611,"m":0.149,"v":0},{"n":659,"m":0.149,"v":0},{"n":708,"m":0.149,"v":0},{"n":757,"m":0.149,"v":0},{"n":806,"m":0.149,"v":0},{"n":854,"m":0.149,"v":0},{"n":903,"m":0.149,"v":0},{"n":952,"m":0.149,"v":0},{"n":1001,"m":0.149,"v":0},{"n":1049,"m":0.149,"v":0},{"n":1098,"m":0.149,"v":0},{"n":1147,"m":0.149,"v":0},{"n":1196,"m":0.149,"v":0},{"n":1244,"m":0.149,"v":0},{"n":1293,"m":0.149,"v":0},{"n":1342,"m":0.149,"v":0},{"n":1391,"m":0.149,"v":0},{"n":1439,"m":0.149,"v":0},{"n":1488,"m":0.149,"v":0},{"n":1537,"m":0.149,"v":0},{"n":1586,"m":0.149,"v":0},{"n":1634,"m":0.149,"v":0},{"n":1683,"m":0.149,"v":0},{"n":1732,"m":0.149,"v":0},{"n":1781,"m":0.149,"v":0},{"n":1829,"m":0.149,"v":0},{"n":1878,"m":0.149,"v":0},{"n":1927,"m":0.149,"v":0},{"n":1976,"m":0.149,"v":0}
]},"transform":[{"impute":"v","key":"n","keyvals":[74,123,172,221,269,318,367,416,464,513,562,611,659,708,757,806,854,903,952,1001,1049,1098,1147,1196,1244,1293,1342,1391,1439,1488,1537,1586,1634,1683,1732,1781,1829,1878,1927,1976],"groupby":["m"],"value":1}],"mark":{"type":"rect","width":33.2,"height":20,"clip":true},"encoding":{"x":{"field":"n","type":"quantitative","scale":{"domain":[50,2000],"nice":false,"zero":false},"axis":{"values":[400,800,1200,1600,2000],"format":"d","title":"n","titlePadding":15}},"y":{"field":"m","type":"quantitative","scale":{"domain":[0.1,5],"nice":false,"zero":false},"axis":{"values":[1,2,3,4,5],"format":"d","title":"number of measurements [10⁴]","titlePadding":44}},"color":{"field":"v","type":"quantitative","legend":null,"scale":{"domain":[0,0.1,0.2,0.3,0.4,0.5,0.6,0.7,0.8,0.9,1],"range":["#a50026","#d73027","#f46d43","#fdae61","#fee08b","#ffffbf","#d9ef8b","#a6d96a","#66bd63","#1a9850","#006837"]}}}},{"data":{"values":[{"a":50,"b":2000,"c":0.1,"d":5}]},"mark":{"type":"rect","fill":null,"stroke":"black","strokeWidth":3.5},"encoding":{"x":{"field":"a","type":"quantitative"},"x2":{"field":"b"},"y":{"field":"c","type":"quantitative"},"y2":{"field":"d"}}}]},{"width":72,"height":946,"data":{"values":[{"a":0,"b":1}]},"mark":{"type":"rect","stroke":"black","strokeWidth":3.5,"fill":{"gradient":"linear","x1":0,"y1":1,"x2":0,"y2":0,"stops":[{"offset":0,"color":"#a50026"},{"offset":0.1,"color":"#d73027"},{"offset":0.2,"color":"#f46d43"},{"offset":0.3,"color":"#fdae61"},{"offset":0.4,"color":"#fee08b"},{"offset":0.5,"color":"#ffffbf"},{"offset":0.6,"color":"#d9ef8b"},{"offset":0.7,"color":"#a6d96a"},{"offset":0.8,"color":"#66bd63"},{"offset":0.9,"color":"#1a9850"},{"offset":1,"color":"#006837"}]}},"encoding":{"y":{"field":"a","type":"quantitative","scale":{"domain":[0,1],"nice":false},"axis":{"orient":"right","values":[0,0.2,0.4,0.6,0.8,1],"format":".1f","title":null,"labelPadding":14}},"y2":{"field":"b"}}}]}
